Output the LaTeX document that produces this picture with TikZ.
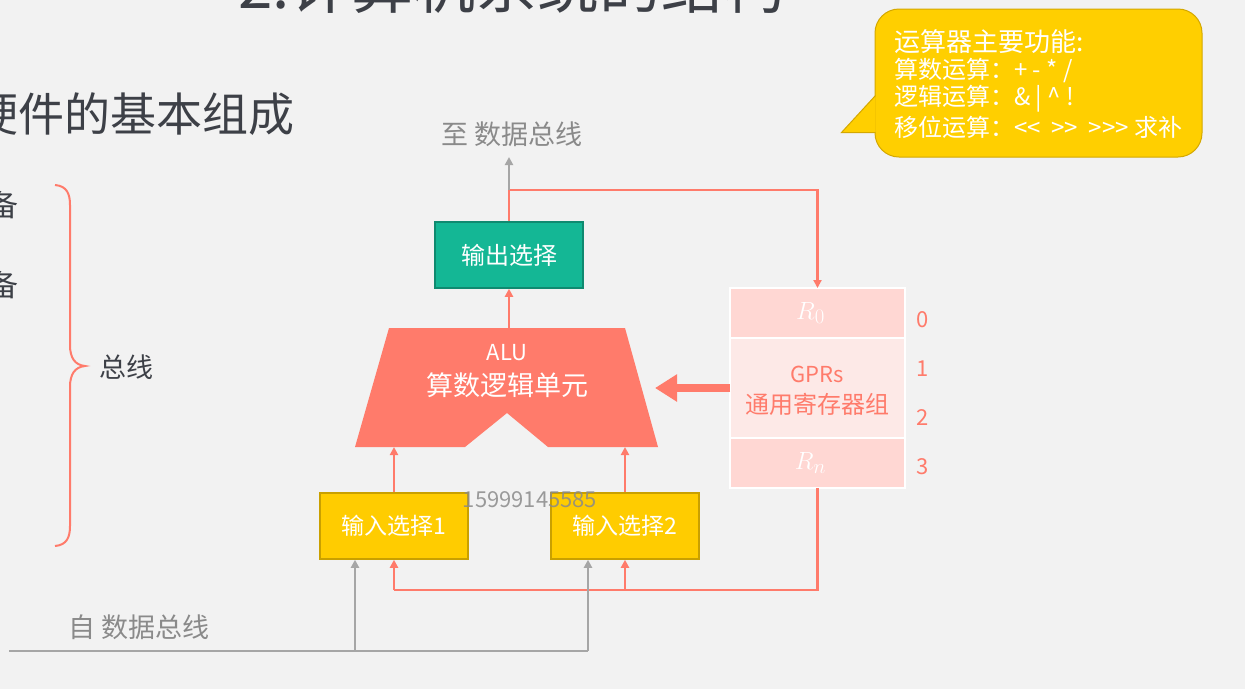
\documentclass[tikz,border=0pt]{standalone}
\usepackage{fontspec}
\setmainfont{Noto Sans CJK SC}
\usetikzlibrary{arrows.meta,positioning}

\definecolor{bgc}{HTML}{F2F2F2}
\definecolor{salmon}{HTML}{FF7B6B}
\definecolor{linegray}{HTML}{A6A6A6}
\definecolor{textgray}{HTML}{8A8A8A}
\definecolor{darktext}{HTML}{3D4047}
\definecolor{outgreen}{HTML}{14B795}
\definecolor{outgreenline}{HTML}{0F8A70}
\definecolor{inyellow}{HTML}{FFCC00}
\definecolor{inyellowline}{HTML}{C9A000}
\definecolor{regdark}{HTML}{FFD7D3}
\definecolor{reglight}{HTML}{FDE9E7}
\definecolor{callfill}{HTML}{FFCF00}
\definecolor{callline}{HTML}{D4A800}

\newcommand{\fsz}[1]{\fontsize{#1}{#1}\selectfont}

\begin{document}
\begin{tikzpicture}[
      x = 1pt, y = -1pt, % pixel grid, y runs down
      redline/.style = {draw=salmon, line width=2.5pt},
      grayline/.style = {draw=linegray, line width=2.5pt},
      tip/.style = {-{Triangle[length=8pt,width=8pt]}},
      selbox/.style = {draw, line width=1.5pt, minimum width=148pt,
          minimum height=66pt, inner sep=0pt, text=white, font=\fsz{23}},
      reg/.style = {draw=white, line width=1.5pt, minimum width=175pt,
          inner sep=0pt, outer sep=0pt},
      txt/.style = {inner sep=0pt}
  ]

\useasboundingbox (0,0) rectangle (1245,689);
\fill[bgc] (0,0) rectangle (1245,689);
\clip (0,0) rectangle (1245,689);

% slide text, cut at the edges
\node[txt, anchor=base west, text=darktext, font=\fsz{62}] (title) at (238,8) {2.计算机系统的结构};
\node[txt, anchor=east, text=darktext, font=\fsz{46}] (hw) at (295,114) {硬件的基本组成};
\node[txt, anchor=east, text=darktext, font=\fsz{30}] (dev1) at (19,205) {输入设备};
\node[txt, anchor=east, text=darktext, font=\fsz{30}] (dev2) at (19,285) {输出设备};
\node[txt, text=darktext, font=\fsz{27}] (bus) at (126,367) {总线};
\draw[salmon, line width=2pt] (55,185) .. controls (67,186) and (70,194) .. (70,205)
    -- (70,345) .. controls (70,358) and (75,365) .. (85,366)
    .. controls (75,367) and (70,374) .. (70,387)
    -- (70,526) .. controls (70,537) and (67,545) .. (55,546);

% blocks
\node[selbox, draw=outgreenline, fill=outgreen, font=\fsz{24}] (out) at (509,255) {输出选择};
\node[selbox, draw=inyellowline, fill=inyellow] (in1) at (394,526) {输入选择1};
\node[selbox, draw=inyellowline, fill=inyellow] (in2) at (625,526) {输入选择2};

\fill[salmon] (389,328) -- (625,328) -- (658,447) -- (548,447) -- (507,413)
    -- (465,447) -- (355,447) -- cycle;
\node[txt, text=white, font=\fsz{22}] (alu) at (507,353) {ALU};
\node[txt, text=white, font=\fsz{27}] (aluname) at (507,385) {算数逻辑单元};
\coordinate (alutop) at (509,328);
\coordinate (alubot) at (394,447);
\coordinate (aluright) at (655,388);

\node[reg, fill=regdark, minimum height=50pt] (r0) at (817.5,313) {};
\node[reg, fill=reglight, minimum height=100pt, below=0pt of r0] (gpr) {};
\node[reg, fill=regdark, minimum height=50pt, below=0pt of gpr] (rn) {};
\node[txt, text=white, font=\fsz{29}] at ([xshift=-7pt]r0.center) {$R_0$};
\node[txt, text=white, font=\fsz{29}] at ([xshift=-7pt]rn.center) {$R_n$};
\node[txt, text=salmon, font=\fsz{22}] (gprs) at (817,374) {GPRs};
\node[txt, text=salmon, font=\fsz{24}] (gprname) at (817,404) {通用寄存器组};
\foreach \i in {0,...,3}{
    \node[txt, text=salmon, font=\fsz{22}] (num\i) at (923,320+49*\i) {\i};
}

% data paths
\node[txt, text=textgray, font=\fsz{27}] (tobus) at (512,134) {至 数据总线};
\coordinate (split) at (509,190);
\coordinate (tobustip) at (509,157);
\draw[redline, tip] (out.north) -- (split) -| (r0.north);
\draw[grayline, tip] (split) -- (tobustip);
\draw[redline, tip] (alutop) -- (out.south);
\draw[redline, tip] (in1.north) -- (alubot);
\draw[redline, tip] (in2.north) -- (in2.north |- alubot);
\draw[salmon, line width=8pt, -{Triangle[length=22pt,width=26pt]}] (gpr.west) -- (aluright);

\coordinate (ret) at (394,590);
\draw[redline] (rn.south) |- (ret);
\draw[redline, tip] (ret) -- (in1.south);
\draw[redline, tip] (in2.south |- ret) -- (in2.south);

\node[txt, text=textgray, font=\fsz{27}] (frombus) at (139,627) {自 数据总线};
\coordinate (busstart) at (9,651);
\coordinate (bus1) at (355,651);
\coordinate (bus2) at (588,651);
\draw[grayline] (busstart) -- (bus2);
\draw[grayline, tip] (bus1) -- (bus1 |- in1.south);
\draw[grayline, tip] (bus2) -- (bus2 |- in2.south);

% callout
\node[draw=callline, fill=callfill, line width=1pt, rounded corners=24pt,
    minimum width=327pt, minimum height=148pt] (callout) at (1038.5,83) {};
\path (callout.south west) ++(1,-62) coordinate (tailtop)
      (callout.south west) ++(1,-25) coordinate (tailbot)
      (tailbot) ++(-34,0) coordinate (tailtip);
\fill[callfill] (tailtop) -- (tailtip) -- (tailbot) -- cycle;
\draw[callline, line width=1pt] (tailtop) -- (tailtip) -- (tailbot);
\foreach \txt/\sz [count=\i] in {
    {运算器主要功能:}/26,
    {算数运算：+ - * /}/24,
    {逻辑运算：\& | \^{} !}/24,
    {移位运算：{<}{<} \ {>}{>} \ {>}{>}{>} 求补}/24
}{
    \node[txt, anchor=west, text=white, font=\fsz{\sz}] (call\i) at (894,42+28.5*\i-28.5) {\txt};
}

\node[txt, text=textgray, opacity=0.85, font=\fsz{22}] (mark) at (530,500) {15999145585};

\end{tikzpicture}
\end{document}
